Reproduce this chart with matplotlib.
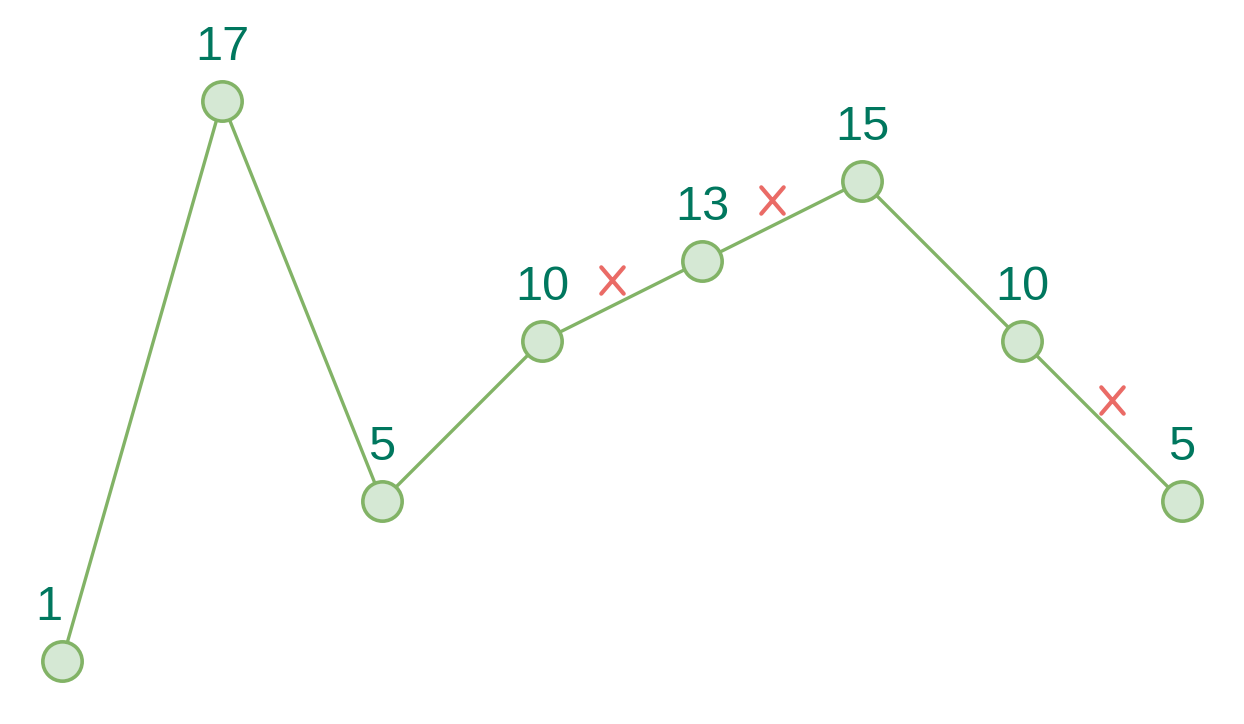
import matplotlib
matplotlib.use("Agg")
import matplotlib.pyplot as plt
from matplotlib.markers import MarkerStyle
from matplotlib.path import Path
from matplotlib.transforms import offset_copy

# node values (labels) and their vertical levels in the drawing
values = [1, 17, 5, 10, 13, 15, 10, 5]
levels = [0, 7, 2, 4, 5, 6, 4, 2]
# segments (start index) that are crossed out, and which side the mark sits
crossed = [3, 4, 6]
cross_side = [-1, -1, 1]

line_col = "#82b366"
fill_col = "#d5e8d4"
text_col = "#00775e"
cross_col = "#ea6b66"

fig = plt.figure(figsize=(12.44, 7.24), dpi=100)
ax = fig.add_axes([0, 0, 1, 1])
ax.set_xlim(-0.3875, 7.3875)
ax.set_ylim(-0.7875, 8.2625)
ax.axis("off")

xs = list(range(len(values)))
ax.plot(xs, levels, "-", color=line_col, lw=2.4, zorder=1)
ax.plot(xs, levels, "o", ms=28.3, mfc=fill_col, mec=line_col, mew=2.6, zorder=2)

for x, y, v in zip(xs, levels, values):
    # the lone "1" sits a bit left in the original
    dx = -13 if v == 1 else 0
    ax.annotate(str(v), (x, y), xytext=(dx, 41), textcoords="offset pixels",
                ha="center", va="baseline", fontsize=35, color=text_col,
                family="Liberation Sans")

# slightly tall cross with rounded ends
cross_path = Path([(-0.85, -1), (0.85, 1), (-0.85, 1), (0.85, -1)],
                  [Path.MOVETO, Path.LINETO, Path.MOVETO, Path.LINETO])
cross = MarkerStyle(cross_path, capstyle="round")

for i, side in zip(crossed, cross_side):
    mx = (xs[i] + xs[i + 1]) / 2
    my = (levels[i] + levels[i + 1]) / 2
    tr = offset_copy(ax.transData, fig=fig, x=10 * side, y=21, units="dots")
    ax.plot(mx, my, marker=cross, ms=19, mew=3.0, color=cross_col,
            linestyle="none", transform=tr, zorder=3)

fig.savefig("out.png", dpi=100)
